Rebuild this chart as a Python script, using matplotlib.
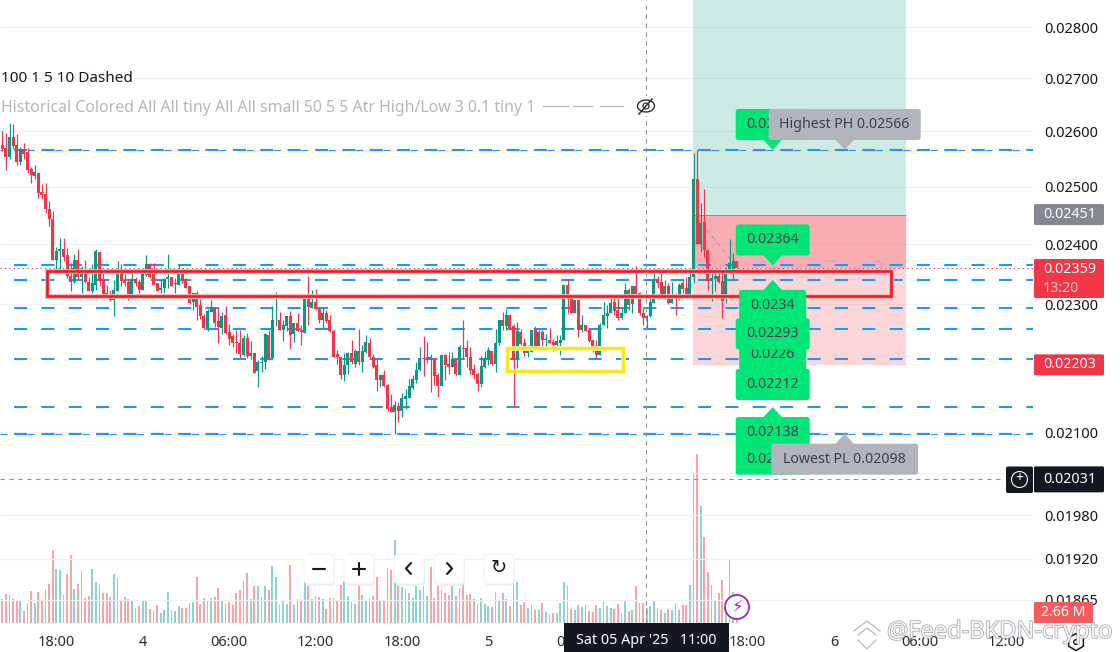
import matplotlib
matplotlib.use("Agg")
import matplotlib.pyplot as plt
import matplotlib.patheffects as pe
from matplotlib.patches import FancyBboxPatch, Polygon, Rectangle, Circle, Ellipse, RegularPolygon
from matplotlib.lines import Line2D
from matplotlib.transforms import Affine2D

plt.rcParams['font.family'] = ['Noto Sans', 'DejaVu Sans']
plt.rcParams['lines.scale_dashes'] = False

# prices in units of 0.00001, one entry per 15-minute bar
opens = [2575,2570,2554,2590,2575,2545,2567,2563,2532,2519,
 2525,2490,2487,2460,2443,2374,2388,2391,2381,2347,
 2336,2374,2345,2351,2337,2322,2332,2386,2341,2319,
 2317,2307,2322,2354,2339,2337,2315,2342,2337,2323,
 2348,2367,2353,2334,2323,2326,2342,2344,2333,2332,
 2358,2341,2329,2303,2318,2298,2281,2262,2288,2294,
 2272,2262,2283,2255,2248,2239,2238,2218,2246,2217,
 2221,2193,2206,2207,2250,2214,2274,2274,2258,2265,
 2280,2251,2270,2258,2253,2314,2294,2304,2292,2274,
 2286,2274,2256,2220,2216,2187,2202,2222,2205,2224,
 2208,2223,2237,2216,2202,2179,2187,2172,2138,2130,
 2139,2132,2150,2152,2167,2179,2195,2213,2213,2216,
 2210,2187,2170,2218,2205,2199,2212,2187,2229,2229,
 2216,2196,2188,2173,2199,2212,2224,2204,2237,2274,
 2265,2283,2264,2210,2255,2238,2221,2223,2259,2232,
 2255,2242,2243,2239,2235,2237,2242,2332,2314,2286,
 2306,2258,2266,2258,2242,2231,2218,2266,2281,2286,
 2304,2291,2277,2285,2324,2301,2329,2319,2286,2277,
 2280,2302,2342,2337,2315,2329,2302,2312,2308,2334,
 2327,2314,2345,2514,2400,2438,2390,2338,2341,2346,
 2338,2308,2354,2357,2372]
closes = [2567,2554,2590,2574,2545,2568,2559,2530,2521,2527,
 2488,2485,2460,2443,2374,2389,2391,2379,2346,2336,
 2374,2345,2349,2336,2321,2334,2389,2338,2317,2312,
 2307,2323,2354,2338,2334,2314,2341,2335,2323,2349,
 2366,2345,2332,2322,2327,2341,2344,2330,2334,2354,
 2339,2327,2302,2318,2296,2281,2262,2289,2295,2270,
 2263,2280,2254,2244,2238,2238,2220,2246,2217,2221,
 2191,2207,2208,2251,2212,2274,2275,2258,2266,2281,
 2250,2270,2256,2255,2313,2296,2304,2292,2274,2286,
 2272,2256,2216,2215,2187,2202,2221,2207,2224,2207,
 2224,2239,2215,2199,2179,2187,2170,2135,2130,2141,
 2132,2152,2155,2170,2181,2195,2213,2212,2215,2210,
 2185,2170,2218,2202,2199,2212,2188,2231,2228,2215,
 2195,2187,2173,2201,2213,2226,2204,2237,2274,2265,
 2283,2261,2210,2256,2236,2221,2224,2258,2232,2255,
 2242,2244,2237,2234,2240,2243,2332,2314,2286,2306,
 2258,2266,2256,2240,2231,2218,2267,2283,2286,2302,
 2289,2277,2286,2324,2299,2329,2317,2285,2277,2281,
 2304,2342,2335,2314,2329,2302,2314,2309,2332,2325,
 2314,2344,2514,2400,2437,2390,2338,2343,2346,2336,
 2305,2354,2369,2372,2359]
highs = [2600,2597,2615,2613,2595,2571,2579,2569,2535,2539,
 2525,2504,2506,2474,2458,2396,2411,2411,2393,2368,
 2383,2391,2363,2374,2345,2366,2391,2386,2357,2332,
 2323,2339,2371,2367,2349,2341,2351,2345,2341,2357,
 2382,2369,2368,2335,2341,2343,2384,2345,2343,2367,
 2359,2343,2329,2319,2321,2309,2284,2292,2306,2295,
 2295,2287,2297,2268,2252,2258,2258,2250,2254,2240,
 2222,2210,2217,2254,2258,2297,2320,2288,2275,2281,
 2289,2270,2286,2267,2313,2347,2324,2325,2295,2294,
 2291,2283,2259,2226,2216,2222,2223,2242,2228,2259,
 2234,2250,2245,2220,2214,2188,2195,2173,2158,2147,
 2145,2159,2166,2181,2187,2207,2231,2248,2239,2220,
 2213,2190,2219,2220,2223,2223,2213,2234,2274,2243,
 2231,2204,2192,2217,2224,2231,2224,2259,2274,2288,
 2292,2284,2268,2271,2259,2246,2234,2258,2264,2258,
 2258,2251,2261,2244,2250,2250,2332,2341,2315,2306,
 2307,2283,2266,2259,2243,2242,2269,2304,2299,2310,
 2314,2310,2295,2335,2327,2329,2363,2320,2293,2283,
 2313,2360,2347,2352,2340,2334,2337,2318,2335,2342,
 2344,2358,2560,2566,2471,2495,2390,2354,2354,2357,
 2357,2361,2408,2385,2372]
lows = [2565,2530,2549,2568,2538,2539,2549,2525,2507,2513,
 2480,2478,2453,2431,2374,2352,2357,2371,2343,2322,
 2335,2341,2319,2335,2321,2319,2323,2329,2317,2311,
 2305,2280,2321,2329,2329,2306,2309,2329,2318,2323,
 2347,2343,2332,2321,2319,2319,2326,2329,2319,2332,
 2335,2326,2301,2290,2274,2276,2260,2256,2287,2263,
 2237,2252,2252,2235,2231,2221,2214,2217,2214,2212,
 2190,2168,2192,2196,2210,2214,2265,2258,2240,2257,
 2228,2239,2256,2234,2253,2267,2293,2291,2270,2262,
 2270,2255,2216,2204,2181,2178,2188,2205,2200,2202,
 2192,2222,2214,2198,2162,2168,2169,2132,2130,2098,
 2116,2123,2135,2152,2166,2175,2193,2186,2206,2161,
 2172,2153,2170,2179,2188,2199,2187,2187,2212,2200,
 2188,2181,2162,2168,2198,2202,2203,2192,2235,2258,
 2258,2259,2138,2198,2235,2217,2215,2223,2231,2232,
 2233,2232,2237,2224,2228,2218,2242,2286,2285,2285,
 2247,2255,2256,2239,2223,2213,2218,2266,2262,2286,
 2283,2274,2276,2285,2291,2286,2317,2283,2267,2261,
 2279,2302,2326,2313,2308,2301,2302,2283,2307,2318,
 2313,2313,2334,2400,2387,2379,2323,2305,2321,2335,
 2277,2302,2354,2341,2359]
# volume, millions
volumes = [5.92,7.12,6.88,5.92,5.44,5.44,2.8,4.96,7.84,4.96,
 7.6,5.68,8.32,9.52,17.68,13.12,12.88,6.88,11.92,16.48,
 8.32,9.52,12.64,6.16,6.64,13.12,10,9.52,7.36,7.36,
 6.4,11.92,10.96,5.68,6.4,5.92,5.44,3.52,4,5.44,
 5.44,3.28,2.8,4.48,2.32,3.04,7.6,3.04,2.8,4,
 3.52,3.52,4.96,5.2,11.2,4.72,6.16,5.44,6.16,6.4,
 8.56,5.68,4.72,5.2,4.24,7.36,8.08,10.24,12.16,5.92,
 9.04,9.04,6.4,9.04,8.08,13.84,11.2,4.24,5.68,4.72,
 14.08,4.48,5.92,5.44,10.24,9.52,5.92,6.64,6.4,5.92,
 3.28,6.16,6.16,5.44,9.28,10.24,6.64,5.2,4.72,10.24,
 6.88,5.44,6.16,6.64,11.2,
 5.68,5.68,13.36,12.88,20.08,11.84,8.8,8.32,7.36,6.16,
 9.44,8.08,9.04,6.64,13.6,6.16,9.52,8.08,7.36,6.88,
 9.52,6.64,8.56,10.24,6.88,7.12,5.92,4.72,6.16,4.72,
 4,3.76,7.6,5.68,7.36,5.92,4,10,10,4.24,
 5.2,3.52,4.24,3.04,3.04,4.96,2.56,2.08,2.32,2.32,
 4.96,10,9.04,3.28,3.04,4.24,3.76,4.48,2.8,2.56,
 4.24,3.52,5.44,4,3.52,3.28,4.72,2.32,5.68,2.8,
 3.04,9.04,4.96,4.96,3.52,4,5.68,3.52,3.04,2.32,
 3.28,3.04,4.96,3.04,4.48,4.24,9.28,36,40.8,28.32,
 20.8,12.4,9.28,5.44,7.36,10.48,5.44,15.28,7.6,2.66]

price_ticks = [0.028,0.027,0.026,0.025,0.024,0.023,0.021,0.0204,0.0198,0.0192,0.01865]
time_ticks = [15,39,63,87,111,135,159,183,207,231,255,279]
time_labels = ['18:00','4','06:00','12:00','18:00','5','06:00','12:00','18:00','6','06:00','12:00']
day_labels = {'4','5','6'}

level_values = [0.02566,0.02364,0.0234,0.02293,0.0226,0.02212,0.02138,0.02098]
thin_levels = [0.02566,0.02098]
target_price = 0.02451
stop_price = 0.02203
last_price = 0.02359
cross_price = 0.02031
cross_bar = 178.85
box_red = (12.4,246.9,0.02355,0.02313)
box_yellow = (140.1,172.4,0.0223,0.02193)
position_bars = (191.9,251.0)
trend_bars = (195.7,202.2)
trend_prices = (0.02425,0.02375)

UP, DOWN = '#089981', '#f23645'
W, H = 1120, 652
fig = plt.figure(figsize=(11.2,6.52), dpi=100, facecolor='white')
vol_ax = fig.add_axes([0,0,1,1], zorder=0)
ax = fig.add_axes([0,0,1,1], zorder=1)
ax.patch.set_alpha(0)

n = len(opens)
xs = list(range(n))
XL = (-0.64, 310.47)
ax.set_xlim(*XL); vol_ax.set_xlim(*XL)
ax.set_yscale('log')
ax.set_ylim(0.017968, 0.028542)
vol_ax.set_ylim(-7.0, 150.6)
vol_ax.axis('off')

P = lambda v: [a*1e-5 for a in v]
O, Hi, Lo, C = P(opens), P(highs), P(lows), P(closes)
is_up = [c >= o for o, c in zip(O, C)]
cols = [UP if u else DOWN for u in is_up]

vol_ax.bar(xs, volumes, width=0.5, linewidth=0,
           color=['#92d2cc' if u else '#f9a5a5' for u in is_up])

xend = 286.3
ax.hlines(price_ticks, XL[0], xend, color='#f1f2f4', lw=0.9, zorder=0.5)

# position zones
x0, x1 = position_bars
ax.add_patch(Rectangle((x0,target_price), x1-x0, 0.0295-target_price, fc=UP, alpha=0.2, lw=0, zorder=1))
ax.add_patch(Rectangle((x0,stop_price), x1-x0, target_price-stop_price, fc=DOWN, alpha=0.2, lw=0, zorder=1))
ax.add_patch(Rectangle((x0,last_price), x1-x0, target_price-last_price, fc=DOWN, alpha=0.25, lw=0, zorder=1))
ax.hlines(target_price, x0, x1, color='#8a8f99', lw=0.7, zorder=1.1)

# level lines
for lv in level_values:
    ax.plot([3.25, xend], [lv, lv], color='#2196f3', lw=1.5, dashes=(9.4,10.3),
            dash_capstyle='butt', zorder=2)
for lv in thin_levels:
    ax.plot([XL[0], xend], [lv, lv], color='#2196f3', lw=0.8, dashes=(5.0,14.7),
            dash_capstyle='butt', zorder=2)
ax.plot([XL[0], xend], [last_price]*2, color=DOWN, lw=0.7, dashes=(1.0,2.2), zorder=2)

# crosshair
ax.plot([cross_bar]*2, [1-623/H, 1], transform=ax.get_xaxis_transform(), color='#8f929b',
        lw=0.8, dashes=(3.2,3.2), zorder=6)
ax.plot([XL[0], 278.2], [cross_price]*2, color='#8f929b', lw=0.8, dashes=(3.2,3.2), zorder=6)

# candles
ax.vlines(xs, Lo, Hi, colors=cols, lw=0.85, zorder=3)
ax.bar(xs, [abs(c-o) for o,c in zip(O,C)], bottom=[min(o,c) for o,c in zip(O,C)],
       width=0.85, color=cols, linewidth=0, zorder=3.5)
ax.plot(trend_bars, trend_prices, color='#a0a3ab', lw=0.9, dashes=(3,3), zorder=4)

# drawn boxes
for (a,b,t,bm), col, hal in [(box_red,'#ef1c24','#f9b4b6'),(box_yellow,'#ffe600','#fff6b0')]:
    ax.add_patch(Rectangle((a,bm), b-a, t-bm, fc='none', ec=hal, lw=3.4, zorder=4.5))
    ax.add_patch(Rectangle((a,bm), b-a, t-bm, fc='none', ec=col, lw=1.9, zorder=4.6))

# axes ticks
ax.yaxis.tick_right()
ax.set_yticks(price_ticks)
ax.set_yticklabels([f'{t:.5f}' for t in price_ticks])
ax.minorticks_off()
ax.tick_params(axis='y', which='both', length=0, pad=-54.7, labelsize=10.5, labelcolor='#131722')
ax.set_xticks(time_ticks)
ax.set_xticklabels(time_labels)
ax.tick_params(axis='x', length=0, pad=-12, labelsize=10.5, labelcolor='#2a2e39')
for lb in ax.get_xticklabels():
    if lb.get_text() in day_labels:
        lb.set_fontweight('bold')
for s in ax.spines.values():
    s.set_visible(False)

# pixel helpers, origin top-left
px = Affine2D().scale(1,-1).translate(0,H)
def to_px(i, p):
    x, y = ax.transData.transform((i,p))
    return x, H-y
def box(x0,y0,x1,y1,fc,ec='none',r=2.5,z=10,lw=0):
    fig.add_artist(FancyBboxPatch((x0,y0),x1-x0,y1-y0,boxstyle=f'round,pad=0,rounding_size={r}',
                   fc=fc,ec=ec,lw=lw,transform=px,zorder=z))
def txt(x,y,s,color='#3b4150',size=10.2,ha='center',z=30,**k):
    return fig.text(x,y,s,color=color,fontsize=size,ha=ha,va='center',transform=px,zorder=z,**k)

GREEN, GREY = '#00e676', '#b2b5be'
layer = [10.0]
def callout(i,p,s,below,w,fc=GREEN):
    x,y = to_px(i,p)
    top = y+10 if below else y-41
    base = y+10.5 if below else y-10.5
    z = layer[0]
    layer[0] += 0.5
    fig.add_artist(Polygon([(x-9.5,base),(x+9.5,base),(x,y)],fc=fc,ec='none',transform=px,zorder=z))
    box(x-w/2,top,x+w/2,top+31,fc,z=z+0.1)
    txt(x,top+15.5,s,z=z+0.2)

callout(214,0.02566,'0.02566',False,74)
callout(234,0.02566,'Highest PH 0.02566',False,152,GREY)
callout(214,0.02364,'0.02364',False,74)
callout(214,0.0234,'0.0234',True,67)
callout(214,0.0226,'0.0226',True,67)
callout(214,0.02212,'0.02212',True,74)
callout(214,0.02293,'0.02293',True,74)
callout(214,0.02138,'0.02138',True,74)
callout(214,0.02098,'0.02098',True,74)
callout(234,0.02098,'Lowest PL 0.02098',True,147,GREY)

# price tags
def tag(p,fc,color='white',h=21):
    _,y = to_px(0,p)
    box(1034,y-h/2,1104,y+h/2,fc,r=1.5,z=20)
    txt(1070,y,f'{p:.5f}',color=color,fontweight='bold',size=10.3)
tag(target_price,'#858790')
_,yl = to_px(0,last_price)
box(1034,259,1104,298,DOWN,r=1.5,z=20)
txt(1070,yl+1,f'{last_price:.5f}',color='white',fontweight='bold',size=10.3)
txt(1061,288,'13:20',color='#fcc6cb',fontweight='bold')
tag(stop_price,DOWN)
tag(cross_price,'#131722',h=26)
box(1006,466.5,1033,493,'#131722',r=2,z=20)
fig.add_artist(Circle((1019.5,479.5),8,fc='none',ec='white',lw=0.8,transform=px,zorder=21))
txt(1019.5,479,'+',color='white',size=10)
box(1034,602,1093,623,'#f65b5b',r=0.5,z=20)
txt(1063,612.5,'2.66 M',color='white',fontweight='bold')

# crosshair date
fig.add_artist(Rectangle((564,623),165,29,fc='#131722',ec='none',transform=px,zorder=20))
txt(646.5,641,"Sat 05 Apr '25   11:00",color='white',size=10.3,fontweight='medium')

# legend lines
txt(1,79,'100 1 5 10 Dashed',color='#131722',size=11,ha='left')
txt(1,108,'Historical Colored All All tiny All All small 50 5 5 Atr High/Low 3 0.1 tiny 1',color='#b4b7be',size=11.4,ha='left')
for a,b in [(543,568),(573,592),(600,623)]:
    fig.add_artist(Line2D([a,b],[106,106],color='#b4b7be',lw=0.9,transform=px,zorder=11))
fig.add_artist(Rectangle((634,96),24,20,fc='white',ec='none',transform=px,zorder=10))
fig.add_artist(Ellipse((646,106),17,12,fc='none',ec='#2a2e39',lw=1.0,transform=px,zorder=11))
fig.add_artist(Circle((646,106),3,fc='none',ec='#2a2e39',lw=0.9,transform=px,zorder=11))
fig.add_artist(Line2D([639,652],[114,99],color='#2a2e39',lw=1.1,transform=px,zorder=11))

# chart buttons
for cx,g in [(319,'minus'),(359,'plus'),(409,'lt'),(449,'gt'),(499,'reset')]:
    cx0 = cx-15
    box(cx0+1,556,cx0+31,586,'#eceef1',r=5,z=9)
    box(cx0,554,cx0+30,584,'white',ec='#f2f3f5',r=5,z=9.5,lw=0.6)
    kw = dict(color='#131722',lw=1.5,transform=px,zorder=11,solid_capstyle='round',solid_joinstyle='round')
    if g=='minus':
        fig.add_artist(Line2D([cx-6,cx+6],[568.5,568.5],**kw))
    elif g=='plus':
        fig.add_artist(Line2D([cx-6,cx+6],[568.5,568.5],**kw))
        fig.add_artist(Line2D([cx,cx],[562.5,574.5],**kw))
    elif g=='lt':
        fig.add_artist(Line2D([cx+2,cx-3,cx+2],[563,568.5,574],**kw))
    elif g=='gt':
        fig.add_artist(Line2D([cx-2,cx+3,cx-2],[563,568.5,574],**kw))
    else:
        txt(cx,568,'\u21bb',color='#131722',size=14,family=['DejaVu Sans'])

# bolt badge
fig.add_artist(Circle((737,607),12,fc='white',ec='#9c27b0',lw=1.3,transform=px,zorder=11))
txt(737,607,'\u26a1',color='#9c27b0',size=12,z=12,family=['DejaVu Sans'])

# settings hexagon
fig.add_artist(RegularPolygon((1076,642),6,radius=8.5,fc='none',ec='#131722',lw=1.1,transform=px,zorder=11))
fig.add_artist(Circle((1076,642),2.3,fc='none',ec='#131722',lw=1.0,transform=px,zorder=11))

# watermark
wm = txt(887,632,'@Feed-BKDN-crypto',color='white',size=17,ha='left',z=33,alpha=0.85)
wm.set_path_effects([pe.withStroke(linewidth=1.0,foreground='#8f9299')])
for pts in ([(854,631),(867,621),(880,631)],[(858,635),(867,628),(876,635)],[(858,640),(867,649),(876,640)]):
    xx,yy = zip(*pts)
    fig.add_artist(Line2D(xx,yy,color='#b9bbc0',lw=0.9,transform=px,zorder=33))

fig.savefig('out.png', dpi=100)
